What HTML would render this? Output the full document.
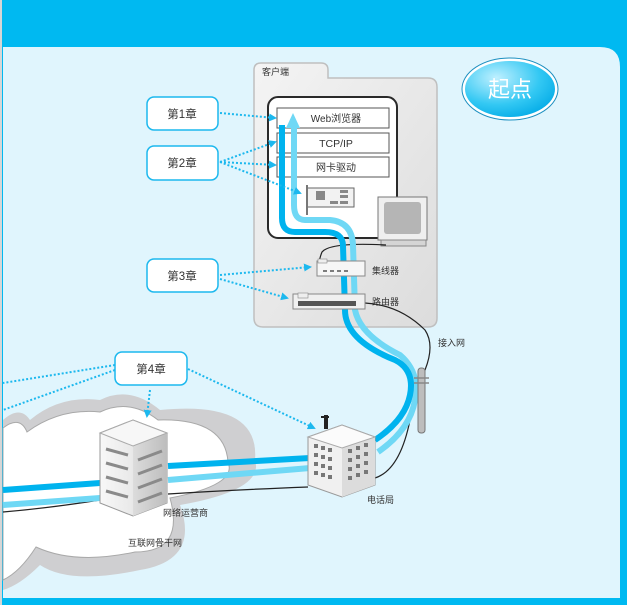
<!DOCTYPE html>
<html><head><meta charset="utf-8"><style>
html,body{margin:0;padding:0;background:#fff;}
svg{display:block;}
text{font-family:"Liberation Sans","Noto Sans CJK SC",sans-serif;}
</style></head><body>
<svg width="627" height="605" viewBox="0 0 627 605" xmlns="http://www.w3.org/2000/svg">
<defs>
<linearGradient id="fold" x1="0" y1="0" x2="1" y2="1"><stop offset="0" stop-color="#f4f4f4"/><stop offset="1" stop-color="#dcdcdc"/></linearGradient>
<radialGradient id="ov" cx="0.35" cy="0.3" r="0.8"><stop offset="0" stop-color="#bff0ff"/><stop offset="0.6" stop-color="#33c8f3"/><stop offset="1" stop-color="#00a9e6"/></radialGradient>
<linearGradient id="bl" x1="0" y1="0" x2="1" y2="0"><stop offset="0" stop-color="#f8f8f8"/><stop offset="1" stop-color="#d8d8d8"/></linearGradient>
<linearGradient id="br" x1="0" y1="0" x2="1" y2="0"><stop offset="0" stop-color="#dcdcdc"/><stop offset="1" stop-color="#bdbdbd"/></linearGradient>
<marker id="ah" markerWidth="8" markerHeight="8" refX="6" refY="4" orient="auto" markerUnits="userSpaceOnUse"><path d="M0,0 L8,4 L0,8 Z" fill="#1cb8ee"/></marker>
</defs>
<rect x="0" y="0" width="627" height="605" fill="#00b9f1"/>
<rect x="0" y="0" width="2" height="605" fill="#d6d6d6"/>
<path d="M3,47 H600 Q620,47 620,67 V598 H3 Z" fill="#e0f5fd"/>
<path d="M2,4 H610 Q627,4 627,20" fill="none" stroke="#00b9f1"/>

<!-- cloud -->
<path d="M3,420 Q20,405 30,420 Q60,395 100,400 Q130,385 160,410 Q260,400 255,460 Q265,490 180,505 Q200,560 140,570 Q70,585 40,565 Q20,585 3,590 Z" fill="#cfcfd1"/>
<path d="M3,428 Q20,415 27,432 Q60,408 100,412 Q130,398 158,420 Q225,418 228,462 Q238,485 170,498 Q185,552 135,552 Q75,565 36,547 Q20,572 3,580 Z" fill="#fff" stroke="#a9a9a9" stroke-width="1"/>

<!-- client folder -->
<path d="M254,70 Q254,63 261,63 H321 Q328,63 328,70 V78 H428 Q437,78 437,87 V318 Q437,327 428,327 H263 Q254,327 254,318 Z" fill="url(#fold)" stroke="#bfbfbf" stroke-width="1.5"/>
<text x="262" y="75" font-size="9" fill="#333">客户端</text>
<rect x="268" y="97" width="129" height="141" rx="10" fill="#fff" stroke="#2a2a2a" stroke-width="2"/>
<rect x="277" y="108" width="112" height="20" fill="#fff" stroke="#555"/>
<rect x="277" y="133" width="112" height="20" fill="#fff" stroke="#555"/>
<rect x="277" y="157" width="112" height="20" fill="#fff" stroke="#555"/>
<text x="336" y="122" font-size="10" fill="#333" text-anchor="middle">Web浏览器</text>
<text x="336" y="147" font-size="10.5" fill="#333" text-anchor="middle">TCP/IP</text>
<text x="336" y="171" font-size="10" fill="#333" text-anchor="middle">网卡驱动</text>
<!-- NIC -->
<rect x="307" y="188" width="47" height="19" fill="#f2f2f2" stroke="#666"/>
<rect x="306" y="185" width="2" height="30" fill="#777"/>
<rect x="316" y="191" width="9" height="9" fill="#888"/><rect x="340" y="190" width="8" height="3" fill="#888"/><rect x="340" y="195" width="8" height="3" fill="#888"/><rect x="330" y="201" width="8" height="3" fill="#888"/><rect x="340" y="201" width="8" height="3" fill="#888"/>
<!-- monitor -->
<rect x="378" y="197" width="49" height="43" fill="#efefef" stroke="#777"/>
<rect x="384" y="202" width="37" height="32" rx="3" fill="#b5b5b5"/>
<rect x="381" y="240" width="45" height="6" fill="#d5d5d5" stroke="#888"/>
<!-- cables -->
<g fill="none" stroke="#222" stroke-width="1.2">
<path d="M386,245 Q330,242 322,252 Q318,262 320,266"/>
<path d="M365,303 Q400,305 425,330 Q435,345 425,370 Q415,390 410,420 Q400,470 375,478"/>
<path d="M308,487 Q230,490 168,494"/>
<path d="M100,500 Q50,508 3,512"/>
</g>
<!-- flows -->
<g fill="none" stroke-linecap="butt" stroke-width="6">
<path d="M3,505 L100,498 M168,480 L310,468" stroke="#6fd8f5"/>
<path d="M378,452 Q410,430 415,400 Q420,372 400,355 Q360,335 355,310 L353,245 Q352,222 330,220 L305,220 Q294,220 294,205 V125" stroke="#6fd8f5"/>
<path d="M3,490 L100,483 M168,466 L310,458" stroke="#00b3ee"/>
<path d="M375,440 Q405,420 410,395 Q415,370 395,360 Q345,340 345,310 L343,246 Q343,232 325,232 L295,232 Q282,232 282,218 V125" stroke="#00b3ee"/>
</g>
<path d="M293,113 L286,128 H300 Z" fill="#6fd8f5"/>
<!-- hub/router -->
<rect x="317" y="261" width="48" height="15" fill="#f6f6f6" stroke="#888"/>
<rect x="318" y="259" width="9" height="4" fill="#eee" stroke="#888" stroke-width=".6"/>
<path d="M323,271 h4 m3,0 h4 m3,0 h4 m3,0 h4" stroke="#333" stroke-width="1.3"/>
<text x="372" y="274" font-size="9" fill="#333">集线器</text>
<rect x="293" y="294" width="72" height="15" fill="#f0f0f0" stroke="#888"/>
<rect x="298" y="293" width="10" height="5" fill="#eee" stroke="#888" stroke-width=".6"/>
<rect x="298" y="301" width="58" height="5" fill="#555"/>
<text x="372" y="305" font-size="9" fill="#333">路由器</text>
<text x="438" y="346" font-size="9" fill="#333">接入网</text>
<!-- pole -->
<rect x="418" y="368" width="7" height="65" rx="3" fill="#bdbdbd" stroke="#777"/>
<path d="M414,378 h15 M414,383 h15" stroke="#888" stroke-width="1.5"/>
<!-- server -->
<path d="M100,433 L133,420 L167,433 L167,503 L133,516 L100,503 Z" fill="url(#bl)" stroke="#999"/>
<path d="M133,446 L167,433 L167,503 L133,516 Z" fill="url(#br)"/>
<path d="M100,433 L133,420 L167,433 L133,446 Z" fill="#f7f7f7" stroke="#aaa"/>
<g stroke="#8a8a8a" stroke-width="3">
<path d="M106,449 L128,455 M106,463 L128,469 M106,477 L128,483 M106,491 L128,497"/>
<path d="M138,460 L162,451 M138,474 L162,465 M138,488 L162,479 M138,502 L162,493"/>
</g>
<!-- phone building -->
<path d="M308,437 L342,425 L375,437 L375,485 L342,497 L308,485 Z" fill="#f0f0f0" stroke="#999"/>
<path d="M342,448 L375,437 L375,485 L342,497 Z" fill="#dcdcdc"/>
<path d="M308,437 L342,425 L375,437 L342,448 Z" fill="#fbfbfb" stroke="#aaa"/>
<rect x="324" y="415" width="4" height="14" fill="#222"/><rect x="321" y="416" width="8" height="2" fill="#222"/>
<g fill="#777">
<rect x="314" y="444" width="4" height="4"/><rect x="321" y="446" width="4" height="4"/><rect x="328" y="448" width="4" height="4"/>
<rect x="314" y="453" width="4" height="4"/><rect x="321" y="455" width="4" height="4"/><rect x="328" y="457" width="4" height="4"/>
<rect x="314" y="462" width="4" height="4"/><rect x="321" y="464" width="4" height="4"/><rect x="328" y="466" width="4" height="4"/>
<rect x="314" y="471" width="4" height="4"/><rect x="321" y="473" width="4" height="4"/><rect x="328" y="475" width="4" height="4"/>
<rect x="348" y="449" width="4" height="4"/><rect x="356" y="446" width="4" height="4"/><rect x="364" y="443" width="4" height="4"/>
<rect x="348" y="458" width="4" height="4"/><rect x="356" y="455" width="4" height="4"/><rect x="364" y="452" width="4" height="4"/>
<rect x="348" y="467" width="4" height="4"/><rect x="356" y="464" width="4" height="4"/><rect x="364" y="461" width="4" height="4"/>
<rect x="348" y="476" width="4" height="4"/><rect x="356" y="473" width="4" height="4"/><rect x="364" y="470" width="4" height="4"/>
</g>
<text x="163" y="516" font-size="9" fill="#333">网络运营商</text>
<text x="128" y="546" font-size="9" fill="#333">互联网骨干网</text>
<text x="367" y="503" font-size="9" fill="#333">电话局</text>
<!-- chapter boxes -->
<g fill="#fff" stroke="#1cb8ee" stroke-width="1.5">
<rect x="147" y="97" width="71" height="33" rx="7"/>
<rect x="147" y="146" width="71" height="34" rx="7"/>
<rect x="147" y="259" width="71" height="33" rx="7"/>
<rect x="115" y="352" width="72" height="33" rx="7"/>
</g>
<g font-size="11.5" fill="#333" text-anchor="middle">
<text x="182" y="118">第1章</text><text x="182" y="167">第2章</text><text x="182" y="280">第3章</text><text x="151" y="373">第4章</text>
</g>
<!-- dotted connectors -->
<g fill="none" stroke="#1cb8ee" stroke-width="2" stroke-dasharray="2,2" marker-end="url(#ah)">
<path d="M220,113 L275,118"/>
<path d="M220,162 L275,142"/>
<path d="M220,162 L275,165"/>
<path d="M220,162 L300,193"/>
<path d="M220,275 L310,267"/>
<path d="M220,279 L287,298"/>
<path d="M150,390 L147,416"/>
<path d="M188,369 L314,428"/>
</g>
<g fill="none" stroke="#1cb8ee" stroke-width="2" stroke-dasharray="2,2">
<path d="M115,365 L3,383"/>
<path d="M115,370 L3,410"/>
</g>
<!-- start oval -->
<ellipse cx="510" cy="89" rx="48" ry="31" fill="#fff" stroke="#1b8fc0" stroke-width="1"/>
<ellipse cx="510" cy="89" rx="45" ry="28" fill="url(#ov)"/>
<text x="510" y="97" font-size="22" fill="#fff" text-anchor="middle" font-family="Liberation Sans,Noto Sans CJK SC,sans-serif">起点</text>
</svg>
</body></html>
